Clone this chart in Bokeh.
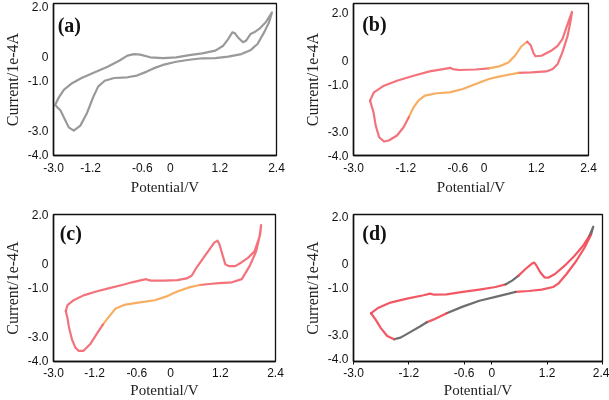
from bokeh.plotting import figure
from bokeh.layouts import column, row
from bokeh.models import Range1d, FixedTicker, Label
from bokeh.embed import file_html
from bokeh.resources import INLINE

# ---------------- data (potential V, current 1e-4 A) ----------------
a_v = [-2.96, -2.87, -2.75, -2.55, -2.32, -2.00, -1.69, -1.41, -1.21, -1.05, -0.90, -0.66, -0.35, -0.03,
       0.29, 0.60, 0.92, 1.11, 1.23, 1.33, 1.39, 1.48, 1.59, 1.66, 1.77, 1.86, 1.98, 2.14, 2.29,
       2.22, 2.10, 1.94, 1.78, 1.55, 1.23, 0.92, 0.60, 0.29, -0.03, -0.35, -0.58, -0.74, -0.98,
       -1.21, -1.53, -1.76, -1.92, -2.04, -2.20, -2.35, -2.51, -2.63, -2.73, -2.83, -2.96]
a_i = [-1.98, -1.67, -1.37, -1.10, -0.89, -0.66, -0.43, -0.19, 0.02, 0.08, 0.06, -0.05, -0.08, -0.05,
       0.04, 0.11, 0.22, 0.42, 0.69, 0.96, 0.93, 0.73, 0.56, 0.62, 0.89, 0.96, 1.10, 1.37, 1.77,
       1.37, 0.96, 0.49, 0.25, 0.08, -0.02, -0.08, -0.09, -0.15, -0.23, -0.36, -0.50, -0.63, -0.79,
       -0.86, -0.89, -1.00, -1.24, -1.67, -2.35, -2.82, -3.02, -2.89, -2.55, -2.21, -1.98]
a_segments = [(0, "gray")]

b_v = [-2.62, -2.53, -2.30, -2.00, -1.62, -1.25, -0.94, -0.78, -0.72, -0.57, -0.19, 0.11, 0.34, 0.56,
       0.71, 0.86, 0.99, 1.07, 1.13, 1.18, 1.32, 1.54, 1.69, 1.80, 1.88, 1.96, 2.02,
       1.99, 1.92, 1.80, 1.69, 1.58, 1.43, 1.09, 0.79, 0.56, 0.34, 0.11, -0.19, -0.49, -0.79, -1.09,
       -1.36, -1.51, -1.62, -1.73, -1.85, -2.00, -2.19, -2.30, -2.41, -2.49, -2.54, -2.62]
b_i = [-1.70, -1.35, -1.07, -0.86, -0.65, -0.47, -0.37, -0.32, -0.37, -0.41, -0.39, -0.34, -0.26, -0.09,
       0.19, 0.59, 0.78, 0.64, 0.33, 0.17, 0.19, 0.40, 0.61, 0.89, 1.31, 1.73, 2.04,
       1.66, 1.03, 0.33, -0.16, -0.37, -0.47, -0.51, -0.53, -0.61, -0.69, -0.79, -1.00, -1.21, -1.35,
       -1.39, -1.49, -1.70, -1.98, -2.40, -2.82, -3.17, -3.38, -3.42, -3.24, -2.75, -2.19, -1.70]
b_segments = [(0, "red"), (11, "orange"), (16, "red"), (34, "orange"), (45, "red")]

c_v = [-2.70, -2.66, -2.51, -2.27, -1.96, -1.64, -1.33, -1.09, -0.86, -0.74, -0.69, -0.62, -0.31, 0.01,
       0.24, 0.36, 0.48, 0.63, 0.79, 0.91, 0.99, 1.04, 1.12, 1.18, 1.26, 1.42, 1.58, 1.73, 1.89, 2.01, 2.05,
       2.03, 1.93, 1.77, 1.58, 1.34, 1.03, 0.79, 0.56, 0.32, 0.01, -0.23, -0.54, -0.94, -1.25, -1.49,
       -1.68, -1.80, -1.96, -2.11, -2.27, -2.39, -2.47, -2.55, -2.62, -2.66, -2.70]
c_i = [-1.97, -1.72, -1.52, -1.32, -1.16, -1.02, -0.89, -0.78, -0.69, -0.65, -0.69, -0.71, -0.71, -0.69,
       -0.62, -0.51, -0.17, 0.19, 0.57, 0.86, 0.94, 0.77, 0.30, -0.04, -0.11, -0.11, 0.05, 0.23, 0.50, 1.10, 1.58,
       1.24, 0.50, -0.11, -0.65, -0.78, -0.81, -0.85, -0.89, -0.98, -1.16, -1.35, -1.52, -1.62, -1.70, -1.86,
       -2.26, -2.53, -2.94, -3.34, -3.61, -3.61, -3.47, -3.14, -2.67, -2.26, -1.97]
c_segments = [(0, "red"), (38, "orange"), (47, "red")]

d_v = [-2.62, -2.48, -2.20, -1.84, -1.48, -1.34, -1.27, -0.98, -0.63, -0.27, 0.08, 0.30, 0.44, 0.58,
       0.73, 0.87, 0.92, 0.97, 1.05, 1.14, 1.22, 1.37, 1.58, 1.79, 1.97, 2.11, 2.20,
       2.15, 2.01, 1.83, 1.62, 1.44, 1.33, 1.08, 0.80, 0.51, 0.30, 0.08, -0.27, -0.63, -0.98, -1.27,
       -1.41, -1.55, -1.77, -1.98, -2.12, -2.27, -2.41, -2.52, -2.62]
d_i = [-2.09, -1.88, -1.64, -1.47, -1.33, -1.26, -1.30, -1.29, -1.19, -1.09, -0.98, -0.87, -0.71, -0.50,
       -0.22, 0.01, 0.05, -0.08, -0.36, -0.57, -0.59, -0.43, -0.08, 0.33, 0.74, 1.16, 1.57,
       1.23, 0.68, 0.12, -0.43, -0.84, -0.98, -1.09, -1.15, -1.19, -1.29, -1.40, -1.56, -1.81, -2.09, -2.36,
       -2.47, -2.64, -2.89, -3.12, -3.19, -3.05, -2.71, -2.36, -2.09]
d_segments = [(0, "red"), (11, "gray"), (13, "red"), (25, "gray"), (27, "red"), (35, "gray"),
              (40, "red"), (42, "gray"), (46, "red")]

x_tick_labels = ["-3.0", "-1.2", "-0.6", "0", "1.2", "2.4"]
a_x_ticks = [-3.0, -2.1, -0.85, -0.17, 1.03, 2.4]
b_x_ticks = [-3.0, -1.8, -0.6, 0.0, 1.2, 2.4]
c_x_ticks = [-3.0, -2.0, -0.97, -0.15, 1.06, 2.4]
d_x_ticks = [-3.0, -1.8, -0.6, 0.0, 1.2, 2.4]
y_tick_values = [2.0, 0.0, -1.0, -3.0, -4.0]
y_tick_labels = ["2.0", "0", "-1.0", "-3.0", "-4.0"]
panel_names = ["(a)", "(b)", "(c)", "(d)"]

PALETTES = {
    "a": {"gray": "#8e8e8e"},
    "b": {"red": "#f2646e", "orange": "#f6a552"},
    "c": {"red": "#f2646e", "orange": "#f6a552"},
    "d": {"red": "#f04653", "gray": "#5e5e5e"},
}


def make_panel(key, name, v, cur, segments, yr, xticks, w, h, borders, lab_xy, tick_out, stand):
    left, right, top, bottom = borders
    p = figure(width=w, height=h, x_range=Range1d(-3.0, 2.4), y_range=Range1d(*yr),
               output_backend="svg", toolbar_location=None,
               min_border_left=left, min_border_right=right,
               min_border_top=top, min_border_bottom=bottom)
    p.xgrid.visible = False
    p.ygrid.visible = False
    p.background_fill_color = "white"
    p.border_fill_color = "white"
    p.outline_line_color = "#111111"
    p.outline_line_width = 1.3

    p.xaxis.ticker = FixedTicker(ticks=xticks, minor_ticks=[])
    p.xaxis.major_label_overrides = {t: s for t, s in zip(xticks, x_tick_labels)}
    p.yaxis.ticker = FixedTicker(ticks=y_tick_values, minor_ticks=[])
    p.yaxis.major_label_overrides = {t: s for t, s in zip(y_tick_values, y_tick_labels)}

    for ax in (p.xaxis[0], p.yaxis[0]):
        ax.axis_line_color = "#111111"
        ax.axis_line_width = 1.5
        ax.major_tick_in = 0
        ax.minor_tick_in = 0
        ax.minor_tick_out = 0
        ax.major_tick_line_color = "#111111"
        ax.major_label_text_font = "Liberation Sans"
        ax.major_label_text_font_size = "12px"
        ax.major_label_text_color = "#111111"
        ax.axis_label_text_font = "Liberation Serif"
        ax.axis_label_text_font_style = "normal"
        ax.axis_label_text_color = "#222222"
    p.xaxis.major_tick_out = tick_out
    p.yaxis.major_tick_out = 0
    p.xaxis.axis_label = "Potential/V"
    p.xaxis.axis_label_text_font_size = "15px"
    p.xaxis.major_label_standoff = stand[0] - tick_out
    p.xaxis.axis_label_standoff = stand[1]
    p.yaxis.axis_label = "Current/1e-4A"
    p.yaxis.axis_label_text_font_size = "16px"
    p.yaxis.major_label_standoff = 5
    p.yaxis.axis_label_standoff = 4

    pal = PALETTES[key]
    n = len(v)
    for k, (start, col) in enumerate(segments):
        end = segments[k + 1][0] if k + 1 < len(segments) else n - 1
        p.line(v[start:end + 1], cur[start:end + 1], line_color=pal[col], line_width=2.2,
               line_alpha=0.9, line_join="round", line_cap="round")

    p.add_layout(Label(x=lab_xy[0], y=lab_xy[1], text=name, text_font="Liberation Serif",
                       text_font_style="bold", text_font_size="20px", text_color="#111111",
                       text_baseline="middle", text_align="left"))
    return p


pa = make_panel("a", panel_names[0], a_v, a_i, a_segments, (-4.03, 2.13), a_x_ticks,
                300, 200, (48, 24, 3, 45), (-2.9, 1.27), 0, (7, 4))
pb = make_panel("b", panel_names[1], b_v, b_i, b_segments, (-4.01, 2.39), b_x_ticks,
                309, 200, (49, 21, 3, 45), (-2.8, 1.54), 0, (7, 4))
pc = make_panel("c", panel_names[2], c_v, c_i, c_segments, (-4.05, 2.02), c_x_ticks,
                300, 200, (46, 25, 14, 36), (-2.85, 1.25), 0, (6, 2))
pd = make_panel("d", panel_names[3], d_v, d_i, d_segments, (-4.13, 2.085), d_x_ticks,
                309, 200, (49, 7, 14, 36), (-2.81, 1.31), 3, (6, 2))

layout = column(row(pa, pb), row(pc, pd),
                styles={"position": "fixed", "left": "0px", "top": "0px"})

open("out.html", "w").write(file_html(layout, INLINE))
